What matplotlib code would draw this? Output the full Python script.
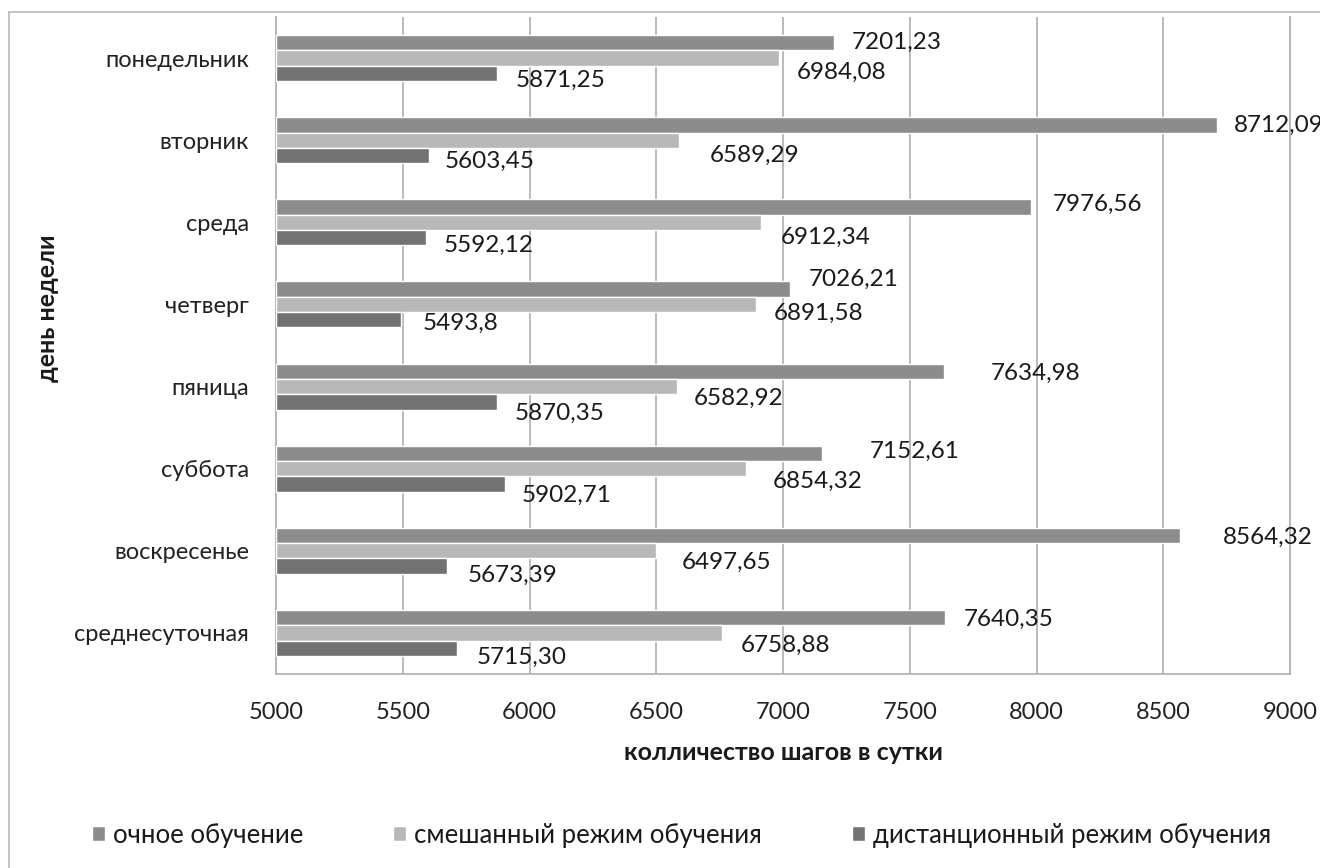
import matplotlib
matplotlib.use("Agg")
import matplotlib.pyplot as plt
from matplotlib.patches import Rectangle
import numpy as np

plt.rcParams['font.family'] = ['Lato', 'Noto Sans', 'DejaVu Sans']

categories = ["понедельник", "вторник", "среда", "четверг", "пяница",
              "суббота", "воскресенье", "среднесуточная"]
ochnoe = [7201.23, 8712.09, 7976.56, 7026.21, 7634.98, 7152.61, 8564.32, 7640.35]
smesh = [6984.08, 6589.29, 6912.34, 6891.58, 6582.92, 6854.32, 6497.65, 6758.88]
dist = [5871.25, 5603.45, 5592.12, 5493.80, 5870.35, 5902.71, 5673.39, 5715.30]
label_ochnoe = ["7201,23", "8712,09", "7976,56", "7026,21", "7634,98", "7152,61", "8564,32", "7640,35"]
label_smesh = ["6984,08", "6589,29", "6912,34", "6891,58", "6582,92", "6854,32", "6497,65", "6758,88"]
label_dist = ["5871,25", "5603,45", "5592,12", "5493,8", "5870,35", "5902,71", "5673,39", "5715,30"]
series_names = ["очное обучение", "смешанный режим обучения", "дистанционный режим обучения"]
xticks = [5000, 5500, 6000, 6500, 7000, 7500, 8000, 8500, 9000]

# label offsets in pixels (dx right, dy down) relative to bar end / bar centre
off_ochnoe = [(18, 0), (17, 1), (22, -3), (19, -10), (47, 2), (48, -2), (43, 2), (18, 2)]
off_smesh = [(18, 14), (31, 15), (20, 15), (18, 9), (16, 12), (27, 13), (26, 12), (19, 12)]
off_dist = [(19, 7), (16, 6), (18, 8), (21, 4), (18, 11), (17, 11), (21, 9), (19, 9)]

colors = ["#8c8c8e", "#b8b8ba", "#727274"]

W, H = 1320, 868
fig = plt.figure(figsize=(W / 100, H / 100), dpi=100)
fig.patch.set_facecolor("white")
ax = fig.add_axes([276 / W, 1 - 674 / H, (1290 - 276) / W, (674 - 17) / H])

y = np.arange(len(categories))
h = 0.187
series = [ochnoe, smesh, dist]
labels = [label_ochnoe, label_smesh, label_dist]
offs = [off_ochnoe, off_smesh, off_dist]
for k, (vals, col) in enumerate(zip(series, colors)):
    pos = y + (k - 1) * h
    ax.barh(pos, np.array(vals) - 5000, left=5000, height=h, color=col,
            edgecolor="white", linewidth=1.0, label=series_names[k], zorder=3)
    for v, p, lab, (dx, dy) in zip(vals, pos, labels[k], offs[k]):
        ax.annotate(lab, xy=(v, p), xytext=(dx * 0.72, -dy * 0.72),
                    textcoords="offset points", ha="left", va="center",
                    fontsize=17.5, color="#1a1a1a", zorder=4, annotation_clip=False)

ax.set_xlim(5000, 9000)
ax.set_ylim(len(categories) - 0.5, -0.5)
ax.set_xticks(xticks)
ax.set_xticklabels([str(t) for t in xticks], fontsize=17, color="#222222")
ax.set_yticks(y)
ax.set_yticklabels(categories, fontsize=17, color="#222222")
ax.tick_params(axis="both", length=0)
ax.tick_params(axis="y", pad=19.5)
ax.tick_params(axis="x", pad=20.5)
ax.grid(axis="x", color="#b4b4b4", linewidth=1.3, zorder=0)
ax.spines["top"].set_visible(False)
for s in ["left", "bottom", "right"]:
    ax.spines[s].set_color("#b4b4b4")
    ax.spines[s].set_linewidth(1.3)

fig.text(783 / W, 1 - 752 / H, "колличество шагов в сутки", ha="center", va="center",
         fontsize=18, fontweight="bold", color="#1a1a1a")
fig.text(48 / W, 1 - 308 / H, "день недели", ha="center", va="center", rotation=90,
         fontsize=18, fontweight="bold", color="#1a1a1a")

leg = fig.legend(loc="center left", bbox_to_anchor=(92 / W, 1 - 835 / H), ncol=3,
                 frameon=False, fontsize=18.5, handlelength=0.5, handleheight=0.5,
                 handletextpad=0.32, columnspacing=3.5, borderpad=0, borderaxespad=0)
for t in leg.get_texts():
    t.set_color("#1a1a1a")

fig.patches.append(Rectangle((9 / W, -0.1), 1.2, 1 - 12 / H + 0.1, transform=fig.transFigure,
                             fill=False, edgecolor="#bdbdbd", linewidth=1.3))

fig.savefig("out.png", dpi=100, facecolor="white")
